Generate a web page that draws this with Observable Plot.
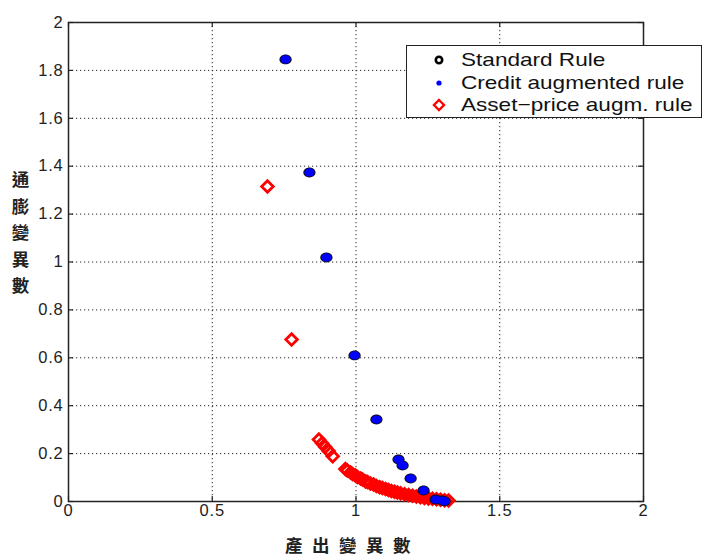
<!DOCTYPE html>
<html><head><meta charset="utf-8">
<script src="https://cdn.jsdelivr.net/npm/d3@7"></script>
<script src="https://cdn.jsdelivr.net/npm/@observablehq/plot@0.6"></script>
<style>
body{margin:0;background:#fff;}
#wrap{position:relative;width:703px;height:558px;overflow:hidden;}
#wrap svg text{letter-spacing:0.8px;}
#legend{position:absolute;left:406px;top:45px;width:294px;height:71px;border:1.5px solid #222;background:#fff;font-family:"Liberation Sans",Arial,sans-serif;color:#111;}
#legend .row{position:absolute;left:0;width:294px;height:22px;}
#legend .row svg{position:absolute;left:22px;top:0;}
#legend .row span{position:absolute;left:54px;top:0;line-height:22px;font-size:18.5px;white-space:nowrap;transform:scaleX(1.22);transform-origin:left center;}
#ylab{position:absolute;left:10px;top:171px;writing-mode:vertical-rl;font-family:"Noto Sans CJK TC",sans-serif;font-size:17.5px;letter-spacing:9px;font-weight:700;color:#222;line-height:20px;}
#xlab{position:absolute;left:285px;top:536px;font-family:"Noto Sans CJK TC",sans-serif;font-size:17.5px;letter-spacing:9.5px;font-weight:700;color:#222;line-height:18px;height:18px;white-space:nowrap;}
</style></head><body>
<div id="wrap"></div>
<script>
// tick values
const xTicks = [0, 0.5, 1, 1.5, 2];
const yTicks = [0, 0.2, 0.4, 0.6, 0.8, 1, 1.2, 1.4, 1.6, 1.8, 2];

// Standard Rule
const standardX = [0.755, 0.838, 0.897, 0.995, 1.071, 1.148, 1.162, 1.190, 1.235, 1.277, 1.300, 1.308];
const standardY = [1.846, 1.374, 1.019, 0.610, 0.342, 0.175, 0.150, 0.096, 0.046, 0.008, 0.004, 0.001];

// Credit augmented rule (overlaps the standard rule)
const creditX = [0.755, 0.838, 0.897, 0.995, 1.071, 1.148, 1.162, 1.190, 1.235, 1.277, 1.300, 1.308];
const creditY = [1.846, 1.374, 1.019, 0.610, 0.342, 0.175, 0.150, 0.096, 0.046, 0.008, 0.004, 0.001];

// Asset-price augmented rule
const assetX = [0.692, 0.776, 0.871, 0.882, 0.893, 0.905, 0.919,
  0.963, 0.970, 0.981, 0.988, 0.998, 1.005, 1.016, 1.023, 1.033, 1.040, 1.050,
  1.061, 1.071, 1.082, 1.092, 1.103, 1.113, 1.123, 1.134, 1.144, 1.155, 1.169,
  1.183, 1.197, 1.210, 1.224, 1.238, 1.252, 1.266, 1.280, 1.294, 1.308, 1.322];
const assetY = [1.315, 0.676, 0.259, 0.243, 0.228, 0.211, 0.189,
  0.136, 0.129, 0.121, 0.115, 0.109, 0.102, 0.096, 0.092, 0.084, 0.081, 0.075,
  0.071, 0.065, 0.060, 0.056, 0.052, 0.048, 0.044, 0.041, 0.038, 0.034, 0.030,
  0.027, 0.024, 0.021, 0.018, 0.015, 0.013, 0.011, 0.009, 0.007, 0.005, 0.004];

const seriesNames = ["Standard Rule", "Credit augmented rule", "Asset\u2212price augm. rule"];
const xTitle = "產出變異數";
const yTitle = "通膨變異數";

const standard = standardX.map((x, i) => ({x, y: standardY[i]}));
const credit = creditX.map((x, i) => ({x, y: creditY[i]}));
const asset = assetX.map((x, i) => ({x, y: assetY[i]}));

// slightly wide ellipse marker, as in the reference
const ellipse = {
  draw(context, size) {
    const r = Math.sqrt(size / Math.PI), a = r * 1.13, b = r * 0.92, k = 0.5523;
    context.moveTo(a, 0);
    context.bezierCurveTo(a, b * k, a * k, b, 0, b);
    context.bezierCurveTo(-a * k, b, -a, b * k, -a, 0);
    context.bezierCurveTo(-a, -b * k, -a * k, -b, 0, -b);
    context.bezierCurveTo(a * k, -b, a, -b * k, a, 0);
    context.closePath();
  }
};

const H = 558, mT = 22, mB = 57, mL = 68, mR = 60;
const ph = H - mT - mB, pw = 703 - mL - mR, tk = 5;
const font = "Liberation Sans, Arial, sans-serif";
const grid = {stroke: "#222", strokeOpacity: 1, strokeWidth: 1, strokeDasharray: "1.2,2.8"};

const chart = Plot.plot({
  width: 703, height: H,
  marginTop: mT, marginBottom: mB, marginLeft: mL, marginRight: mR,
  style: {fontFamily: font, fontSize: "16.5px", color: "#222", background: "#fff", overflow: "visible"},
  x: {domain: [0, 2]},
  y: {domain: [0, 2]},
  marks: [
    Plot.gridX(xTicks.slice(1, -1), grid),
    Plot.gridY(yTicks.slice(1, -1), grid),
    Plot.axisX(xTicks, {tickSize: 0, tickPadding: 3, tickFormat: d => String(d), fontSize: 16.5, label: null}),
    Plot.axisY(yTicks, {tickSize: 0, tickPadding: 5, tickFormat: d => String(d), fontSize: 16.5, label: null}),
    Plot.tickX(xTicks, {x: d => d, insetTop: ph - tk, stroke: "#222", strokeWidth: 1.2}),
    Plot.tickX(xTicks, {x: d => d, insetBottom: ph - tk, stroke: "#222", strokeWidth: 1.2}),
    Plot.tickY(yTicks, {y: d => d, insetRight: pw - tk, stroke: "#222", strokeWidth: 1.2}),
    Plot.tickY(yTicks, {y: d => d, insetLeft: pw - tk, stroke: "#222", strokeWidth: 1.2}),
    Plot.frame({stroke: "#222", strokeWidth: 1.5}),
    Plot.dot(asset, {x: "x", y: "y", symbol: "diamond2", r: 5.2, stroke: "#ff0000", strokeWidth: 2.8, fill: "none"}),
    Plot.dot(standard, {x: "x", y: "y", symbol: ellipse, r: 5.4, fill: "#111", stroke: "none"}),
    Plot.dot(credit, {x: "x", y: "y", symbol: ellipse, r: 4.5, fill: "#0000ff", stroke: "none"})
  ]
});

const wrap = document.getElementById("wrap");
wrap.appendChild(chart);

const legend = document.createElement("div");
legend.id = "legend";
const markers = [
  '<svg width="20" height="22"><circle cx="10" cy="11" r="3.2" fill="none" stroke="#000" stroke-width="2.6"/></svg>',
  '<svg width="20" height="22"><circle cx="10" cy="11" r="2.6" fill="#0000ff"/></svg>',
  '<svg width="20" height="22"><path d="M10 6 L15 11 L10 16 L5 11 Z" fill="none" stroke="#ff0000" stroke-width="2.4"/></svg>'
];
const rowTops = [3, 25.5, 48];
seriesNames.forEach((name, i) => {
  const row = document.createElement("div");
  row.className = "row";
  row.style.top = rowTops[i] + "px";
  row.innerHTML = markers[i] + "<span></span>";
  row.querySelector("span").textContent = name;
  legend.appendChild(row);
});
wrap.appendChild(legend);

const yl = document.createElement("div");
yl.id = "ylab"; yl.textContent = yTitle;
wrap.appendChild(yl);
const xl = document.createElement("div");
xl.id = "xlab"; xl.textContent = xTitle;
wrap.appendChild(xl);
</script>
</body></html>
